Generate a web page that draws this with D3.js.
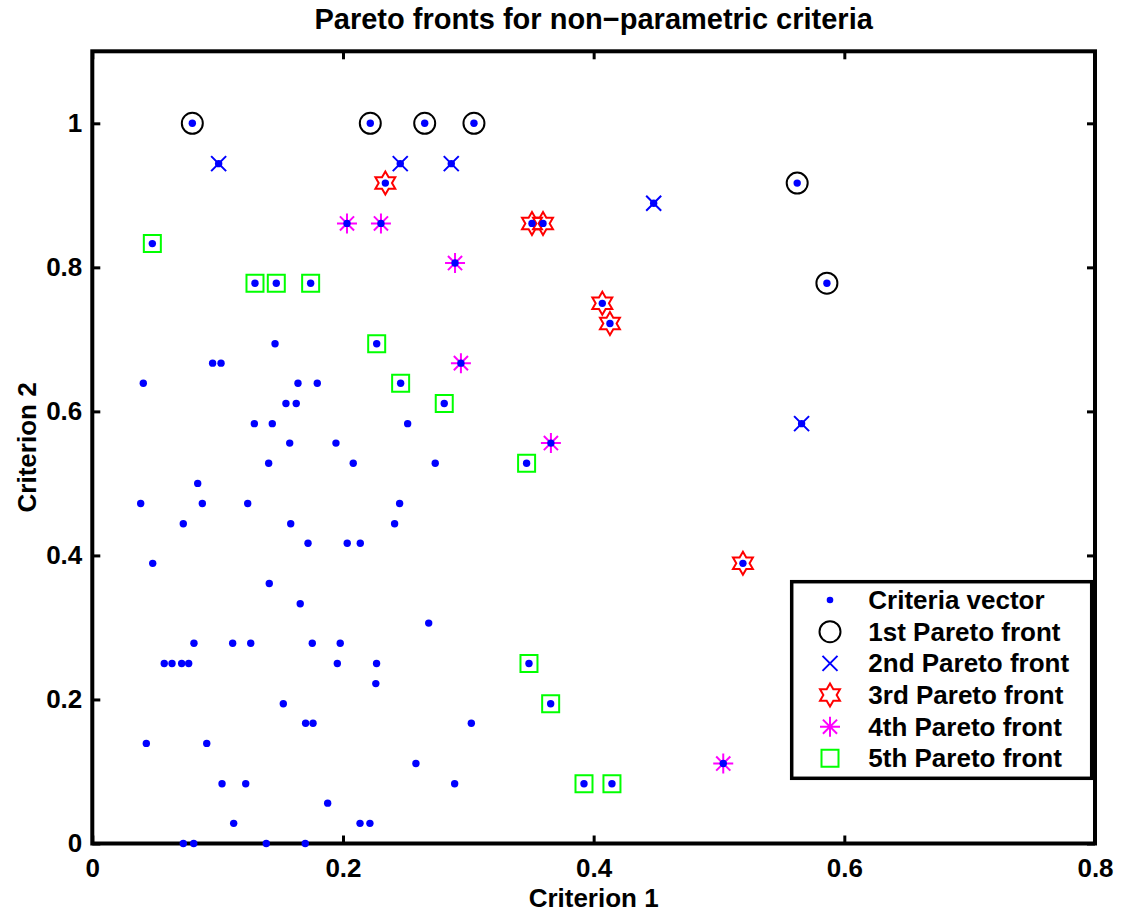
<!DOCTYPE html>
<html>
<head>
<meta charset="utf-8">
<script src="https://cdn.jsdelivr.net/npm/d3@7"></script>
<style>
body { margin: 0; background: #fff; }
text { font-family: "Liberation Sans", Arial, Helvetica, sans-serif; font-weight: bold; }
</style>
</head>
<body>
<script>
//criteria vectors that are not in one of the first five fronts
var criteria = [
  [0.1458,0.694],[0.0960,0.667],[0.1027,0.667],[0.0407,0.639],[0.1641,0.639],[0.1795,0.639],
  [0.1545,0.611],[0.1627,0.611],[0.1293,0.583],[0.1436,0.583],[0.2516,0.583],
  [0.1575,0.556],[0.1944,0.556],[0.1407,0.528],[0.2082,0.528],[0.2736,0.528],
  [0.0841,0.5],[0.0386,0.472],[0.0878,0.472],[0.1240,0.472],[0.2452,0.472],
  [0.0726,0.444],[0.1583,0.444],[0.2412,0.444],[0.1721,0.417],[0.2034,0.417],[0.2138,0.417],
  [0.0482,0.389],[0.1412,0.361],[0.1659,0.333],[0.2684,0.306],
  [0.0811,0.278],[0.1120,0.278],[0.1264,0.278],[0.1755,0.278],[0.1978,0.278],
  [0.0574,0.25],[0.0636,0.25],[0.0713,0.25],[0.0769,0.25],[0.1955,0.25],[0.2268,0.25],
  [0.2262,0.222],[0.1524,0.194],[0.1702,0.167],[0.1761,0.167],[0.3024,0.167],
  [0.0431,0.139],[0.0913,0.139],[0.2582,0.111],[0.1035,0.083],[0.1224,0.083],[0.2891,0.083],
  [0.1878,0.056],[0.1128,0.028],[0.2136,0.028],[0.2215,0.028],
  [0.0726,0],[0.0809,0],[0.1388,0],[0.1699,0]
];

//pareto fronts
var front1 = [[0.0798,1],[0.2218,1],[0.2652,1],[0.3045,1],[0.5624,0.917],[0.5861,0.778]];
var front2 = [[0.1008,0.944],[0.2457,0.944],[0.2864,0.944],[0.4479,0.889],[0.5659,0.583]];
var front3 = [[0.2338,0.917],[0.3508,0.861],[0.3596,0.861],[0.4069,0.75],[0.4130,0.722],[0.5191,0.389]];
var front4 = [[0.2032,0.861],[0.2303,0.861],[0.2894,0.806],[0.2941,0.667],[0.3659,0.556],[0.5034,0.111]];
var front5 = [[0.0479,0.833],[0.1298,0.778],[0.1468,0.778],[0.1742,0.778],[0.2269,0.694],[0.2460,0.639],
  [0.2808,0.611],[0.3465,0.528],[0.3484,0.25],[0.3657,0.194],[0.3923,0.083],[0.4146,0.083]];

var legendLabels = ["Criteria vector","1st Pareto front","2nd Pareto front","3rd Pareto front","4th Pareto front","5th Pareto front"];

var xTicks = [0,0.2,0.4,0.6,0.8],
    xTickLabels = ["0","0.2","0.4","0.6","0.8"];
var yTicks = [0,0.2,0.4,0.6,0.8,1],
    yTickLabels = ["0","0.2","0.4","0.6","0.8","1"];

//dimensioni
var width = 1121, height = 913,
    plotLeft = 92.3, plotRight = 1095,
    plotTop = 51.3, plotBottom = 843.5,
    tickLen = 8,
    fontSize = 26;

var svg = d3.select("body").append("svg")
    .attr("width", width)
    .attr("height", height)
    .style("background", "#fff");

var x = d3.scaleLinear().domain([0, 0.8]).range([plotLeft, plotRight]);
var y = d3.scaleLinear().domain([0, 1.1]).range([plotBottom, plotTop]);

//marker shapes (MATLAB style)
function markerPath(kind) {
  var p = d3.path(), i, a;
  if (kind == "circle") {
    p.moveTo(10.5, 0);
    p.arc(0, 0, 10.5, 0, 2 * Math.PI);
  } else if (kind == "x") {
    p.moveTo(-7.5, -7.5); p.lineTo(7.5, 7.5);
    p.moveTo(-7.5, 7.5); p.lineTo(7.5, -7.5);
  } else if (kind == "hexagram") {
    var R = 11.5, r = R / Math.sqrt(3);
    for (i = 0; i < 12; i++) {
      a = (-90 + i * 30) * Math.PI / 180;
      var rr = (i % 2 == 0) ? R : r;
      if (i == 0) p.moveTo(rr * Math.cos(a), rr * Math.sin(a));
      else p.lineTo(rr * Math.cos(a), rr * Math.sin(a));
    }
    p.closePath();
  } else if (kind == "asterisk") {
    for (i = 0; i < 4; i++) {
      a = i * 45 * Math.PI / 180;
      p.moveTo(-10 * Math.cos(a), -10 * Math.sin(a));
      p.lineTo(10 * Math.cos(a), 10 * Math.sin(a));
    }
  } else if (kind == "square") {
    p.rect(-8.5, -8.5, 17, 17);
  }
  return p.toString();
}

var fronts = [
  {data: front1, kind: "circle", color: "#000000"},
  {data: front2, kind: "x", color: "#0000ff"},
  {data: front3, kind: "hexagram", color: "#ff0000"},
  {data: front4, kind: "asterisk", color: "#ff00ff"},
  {data: front5, kind: "square", color: "#00ff00"}
];

//AXES
var xAxis = svg.append("g")
    .attr("transform", "translate(0," + plotBottom + ")")
    .call(d3.axisBottom(x).tickValues(xTicks)
      .tickFormat(function(d, i) { return xTickLabels[i]; })
      .tickSizeInner(-tickLen).tickSizeOuter(0).tickPadding(15));
var xAxisTop = svg.append("g")
    .attr("transform", "translate(0," + plotTop + ")")
    .call(d3.axisTop(x).tickValues(xTicks).tickFormat("")
      .tickSizeInner(-tickLen).tickSizeOuter(0));
var yAxis = svg.append("g")
    .attr("transform", "translate(" + plotLeft + ",0)")
    .call(d3.axisLeft(y).tickValues(yTicks)
      .tickFormat(function(d, i) { return yTickLabels[i]; })
      .tickSizeInner(-tickLen).tickSizeOuter(0).tickPadding(10));
var yAxisRight = svg.append("g")
    .attr("transform", "translate(" + plotRight + ",0)")
    .call(d3.axisRight(y).tickValues(yTicks).tickFormat("")
      .tickSizeInner(-tickLen).tickSizeOuter(0));

[xAxis, xAxisTop, yAxis, yAxisRight].forEach(function(g) {
  g.select(".domain").remove();
  g.attr("font-size", fontSize)
   .attr("font-family", "Liberation Sans, Arial, sans-serif")
   .attr("font-weight", "bold");
  g.selectAll(".tick line").attr("stroke", "black").attr("stroke-width", 3);
  g.selectAll(".tick text").attr("fill", "black");
});

svg.append("rect")
    .attr("x", plotLeft)
    .attr("y", plotTop)
    .attr("width", plotRight - plotLeft)
    .attr("height", plotBottom - plotTop)
    .attr("fill", "none")
    .attr("stroke", "black")
    .attr("stroke-width", 4);

//FRONT MARKERS
fronts.forEach(function(f) {
  svg.append("g").selectAll("path")
    .data(f.data)
    .enter()
    .append("path")
      .attr("transform", function(d) { return "translate(" + x(d[0]) + "," + y(d[1]) + ")"; })
      .attr("d", markerPath(f.kind))
      .attr("fill", "none")
      .attr("stroke", f.color)
      .attr("stroke-width", 2);
});

//DOTS (all criteria vectors)
var allPoints = criteria.concat(front1, front2, front3, front4, front5);
svg.append("g").selectAll("circle")
    .data(allPoints)
    .enter()
    .append("circle")
      .attr("cx", function(d) { return x(d[0]); })
      .attr("cy", function(d) { return y(d[1]); })
      .attr("r", 3.7)
      .attr("fill", "#0000ff");

//TEXTS
svg.append("text")
    .attr("x", (plotLeft + plotRight) / 2)
    .attr("y", 29)
    .attr("text-anchor", "middle")
    .attr("font-size", 29)
    .text("Pareto fronts for non\u2212parametric criteria");

svg.append("text")
    .attr("x", (plotLeft + plotRight) / 2)
    .attr("y", 907)
    .attr("text-anchor", "middle")
    .attr("font-size", fontSize)
    .text("Criterion 1");

svg.append("text")
    .attr("transform", "translate(36," + ((plotTop + plotBottom) / 2) + ")rotate(-90)")
    .attr("text-anchor", "middle")
    .attr("font-size", fontSize)
    .text("Criterion 2");

//LEGEND
var legX = 791.7, legY = 581.7, legW = 300, legH = 196.6,
    rowH = 31.67, markX = 830, textX = 868.3;

var legend = svg.append("g").attr("class", "legend");
legend.append("rect")
    .attr("x", legX)
    .attr("y", legY)
    .attr("width", legW)
    .attr("height", legH)
    .attr("fill", "white")
    .attr("stroke", "black")
    .attr("stroke-width", 3.5);

var legendKinds = [null].concat(fronts);
var rows = legend.selectAll(".row")
    .data(legendLabels)
    .enter()
    .append("g")
      .attr("class", "row")
      .attr("transform", function(d, i) { return "translate(0," + (legY + 18.3 + i * rowH) + ")"; });

rows.each(function(d, i) {
  var g = d3.select(this);
  if (i == 0) {
    g.append("circle").attr("cx", markX).attr("cy", 0).attr("r", 3.3).attr("fill", "#0000ff");
  } else {
    var f = legendKinds[i];
    g.append("path")
      .attr("transform", "translate(" + markX + ",0)")
      .attr("d", markerPath(f.kind))
      .attr("fill", "none")
      .attr("stroke", f.color)
      .attr("stroke-width", 2);
  }
  g.append("text")
    .attr("x", textX)
    .attr("y", 0)
    .attr("dy", "0.35em")
    .attr("font-size", fontSize)
    .text(d);
});
</script>
</body>
</html>
